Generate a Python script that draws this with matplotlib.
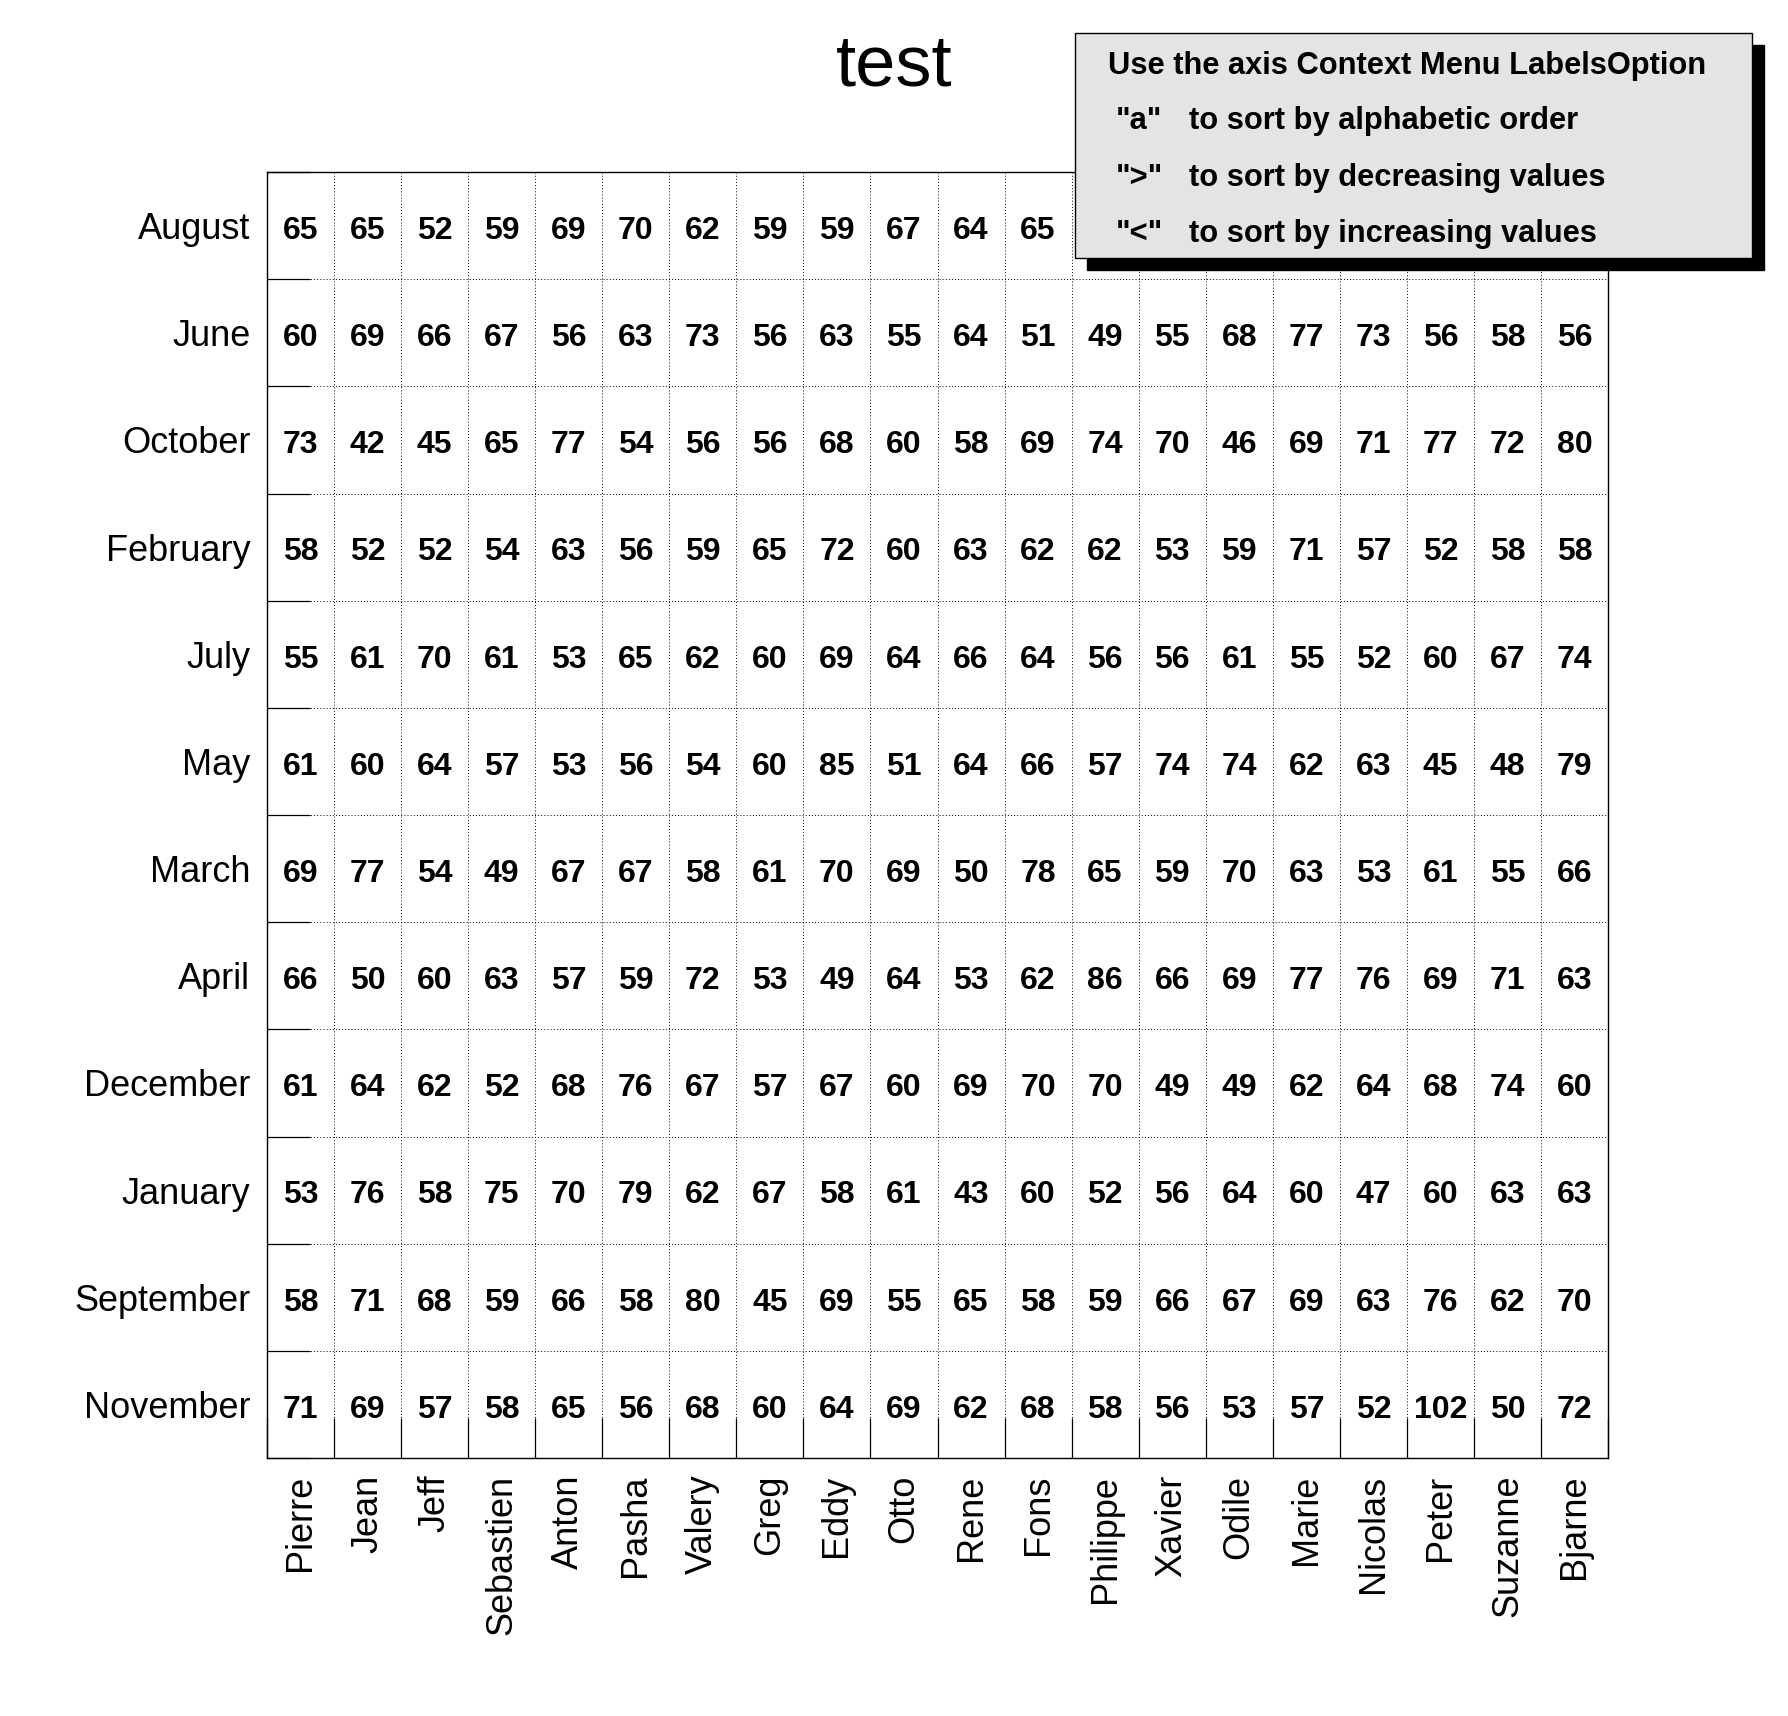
import matplotlib
matplotlib.use("Agg")
import matplotlib.pyplot as plt
from matplotlib.patches import Rectangle
import numpy as np

plt.rcParams['font.family'] = ['Liberation Sans', 'DejaVu Sans']

people = ["Pierre", "Jean", "Jeff", "Sebastien", "Anton", "Pasha", "Valery", "Greg",
          "Eddy", "Otto", "Rene", "Fons", "Philippe", "Xavier", "Odile", "Marie",
          "Nicolas", "Peter", "Suzanne", "Bjarne"]
months = ["August", "June", "October", "February", "July", "May", "March", "April",
          "December", "January", "September", "November"]

# August values for Philippe..Bjarne are hidden behind the legend box in the reference
august    = [65, 65, 52, 59, 69, 70, 62, 59, 59, 67, 64, 65, None, None, None, None, None, None, None, None]
june      = [60, 69, 66, 67, 56, 63, 73, 56, 63, 55, 64, 51, 49, 55, 68, 77, 73, 56, 58, 56]
october   = [73, 42, 45, 65, 77, 54, 56, 56, 68, 60, 58, 69, 74, 70, 46, 69, 71, 77, 72, 80]
february  = [58, 52, 52, 54, 63, 56, 59, 65, 72, 60, 63, 62, 62, 53, 59, 71, 57, 52, 58, 58]
july      = [55, 61, 70, 61, 53, 65, 62, 60, 69, 64, 66, 64, 56, 56, 61, 55, 52, 60, 67, 74]
may       = [61, 60, 64, 57, 53, 56, 54, 60, 85, 51, 64, 66, 57, 74, 74, 62, 63, 45, 48, 79]
march     = [69, 77, 54, 49, 67, 67, 58, 61, 70, 69, 50, 78, 65, 59, 70, 63, 53, 61, 55, 66]
april     = [66, 50, 60, 63, 57, 59, 72, 53, 49, 64, 53, 62, 86, 66, 69, 77, 76, 69, 71, 63]
december  = [61, 64, 62, 52, 68, 76, 67, 57, 67, 60, 69, 70, 70, 49, 49, 62, 64, 68, 74, 60]
january   = [53, 76, 58, 75, 70, 79, 62, 67, 58, 61, 43, 60, 52, 56, 64, 60, 47, 60, 63, 63]
september = [58, 71, 68, 59, 66, 58, 80, 45, 69, 55, 65, 58, 59, 66, 67, 69, 63, 76, 62, 70]
november  = [71, 69, 57, 58, 65, 56, 68, 60, 64, 69, 62, 68, 58, 56, 53, 57, 52, 102, 50, 72]

rows = [august, june, october, february, july, may, march, april,
        december, january, september, november]

title = "test"
legend_lines = [
    ("Use the axis Context Menu LabelsOption", ""),
    ('"a"', "to sort by alphabetic order"),
    ('">"', "to sort by decreasing values"),
    ('"<"', "to sort by increasing values"),
]

W, H = 1788, 1716
fig = plt.figure(figsize=(W / 100, H / 100), dpi=100)

def fx(px):
    return px / W

def fy(py):
    return 1 - py / H

L, R, T, B = 267, 1608, 172, 1458
ax = fig.add_axes([fx(L), fy(B), fx(R) - fx(L), fy(T) - fy(B)])

nx, ny = len(people), len(months)
ax.set_xlim(0, nx)
ax.set_ylim(ny, 0)

for j, row in enumerate(rows):
    for i, v in enumerate(row):
        if v is None:
            continue
        ax.text(i + 0.5, j + 0.55, str(v), ha='center', va='center',
                fontsize=23, fontweight='bold', color='black')

ax.set_xticks(np.arange(nx) + 0.5)
ax.set_xticklabels(people, rotation=90, fontsize=26)
ax.set_yticks(np.arange(ny) + 0.5)
ax.set_yticklabels(months, fontsize=26)
ax.tick_params(which='major', length=0, pad=12)

ax.set_xticks(np.arange(nx + 1), minor=True)
ax.set_yticks(np.arange(ny + 1), minor=True)
ax.tick_params(which='minor', direction='in', width=0.9, color='black')
ax.tick_params(axis='x', which='minor', length=28.5, bottom=True, top=False)
ax.tick_params(axis='y', which='minor', length=31, left=True, right=False)
ax.grid(which='minor', color='black', linestyle=(0, (1, 2.2)), linewidth=0.7)
ax.grid(which='major', visible=False)
ax.set_axisbelow(False)
for s in ax.spines.values():
    s.set_linewidth(1.0)

fig.text(0.5, fy(86), title, ha='center', va='baseline', fontsize=52)

# legend box with shadow
bx0, by0, bx1, by1 = 1075, 33, 1752, 258
sh = 12
fig.add_artist(Rectangle((fx(bx0 + sh), fy(by1 + sh)), fx(bx1 - bx0), (by1 - by0) / H,
                         transform=fig.transFigure, facecolor='black', edgecolor='black',
                         zorder=10))
fig.add_artist(Rectangle((fx(bx0), fy(by1)), fx(bx1 - bx0), (by1 - by0) / H,
                         transform=fig.transFigure, facecolor='#e4e4e4', edgecolor='black',
                         linewidth=1.0, zorder=11))
baselines = [74, 129, 186, 242]
lfs = 22.2
for (a, b), yb in zip(legend_lines, baselines):
    if b:
        fig.text(fx(1116), fy(yb), a, ha='left', va='baseline', fontsize=lfs,
                 fontweight='bold', zorder=12)
        fig.text(fx(1189), fy(yb), b, ha='left', va='baseline', fontsize=lfs,
                 fontweight='bold', zorder=12)
    else:
        fig.text(fx(1108), fy(yb), a, ha='left', va='baseline', fontsize=lfs,
                 fontweight='bold', zorder=12)

fig.savefig("out.png", dpi=100, facecolor='white')
